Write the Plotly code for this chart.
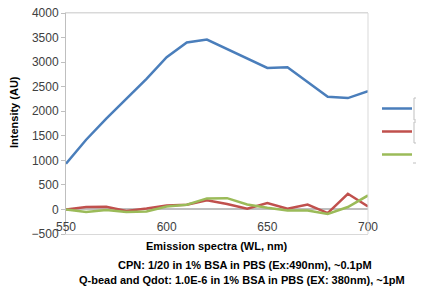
import plotly.graph_objects as go

wavelength = [550, 560, 570, 580, 590, 600, 610, 620, 630, 640, 650, 660, 670, 680, 690, 700]
cpn = [930, 1420, 1850, 2250, 2660, 3100, 3400, 3460, 3270, 3075, 2880, 2895, 2600, 2295, 2268, 2410]
qbead = [0, 50, 55, -30, 20, 80, 95, 185, 110, 15, 130, 15, 100, -75, 320, 60]
qdot = [0, -50, -10, -50, -40, 60, 95, 225, 230, 100, 35, -20, -20, -90, 50, 285]
names = ["CPN", "Q-bead", "Qdot"]
colors = ["#4A7EBB", "#C0504D", "#9BBB59"]

OFF = 8  # default page body margin
W, H = 424 - OFF, 288 - OFF
# plot area in window pixels: x 66..368, y 13..234
L, T = 66 - OFF, 13 - OFF
R, B = W - (368 - OFF), H - (234 - OFF)
pw, ph = W - L - R, H - T - B

def px(x):
    return (x - OFF - L) / pw

def py(y):
    return (H - B - (y - OFF)) / ph

fig = go.Figure()
for i, (nm, ys) in enumerate(zip(names, [cpn, qbead, qdot])):
    fig.add_trace(go.Scatter(x=wavelength, y=ys, mode="lines", name=nm,
                             legendgroup=nm,
                             line=dict(color=colors[i], width=2.5)))

tickfont = dict(family="Liberation Sans, Arial, sans-serif", size=12, color="#404040")
fig.update_layout(
    width=W, height=H,
    margin=dict(l=L, r=R, t=T, b=B, autoexpand=False),
    plot_bgcolor="white", paper_bgcolor="white",
    showlegend=True,
    legend=dict(x=px(377), y=py(94), xanchor="left", yanchor="top",
                traceorder="grouped", tracegroupgap=4,
                font=dict(family="Liberation Sans, Arial, sans-serif", size=12, color="#404040"),
                bgcolor="rgba(0,0,0,0)"),
    xaxis=dict(range=[550, 700], tickvals=[550, 600, 650, 700],
               ticklabelstandoff=-18, ticklabeloverflow="allow",
               showgrid=False, zeroline=False, showline=True, linecolor="#D9D9D9",
               mirror=True, ticks="", tickfont=tickfont),
    yaxis=dict(range=[-500, 4000], dtick=500, showgrid=False, zeroline=True,
               zerolinecolor="#BFBFBF", zerolinewidth=1.5, ticklabeloverflow="allow",
               showline=True, linecolor="#BFBFBF", mirror=False,
               ticks="outside", ticklen=4, tickcolor="#BFBFBF", tickfont=tickfont),
)
fig.add_shape(type="line", xref="paper", yref="paper", x0=0, x1=1, y0=1, y1=1,
              line=dict(color="#D9D9D9", width=1))
fig.add_shape(type="line", xref="paper", yref="paper", x0=1, x1=1, y0=0, y1=1,
              line=dict(color="#D9D9D9", width=1))
# cut-off label boxes on the right
fig.add_shape(type="rect", xref="paper", yref="paper", x0=px(414), x1=px(440), y0=py(120), y1=py(98),
              line=dict(color="#BFBFBF", width=1))
fig.add_shape(type="rect", xref="paper", yref="paper", x0=px(414), x1=px(440), y0=py(143), y1=py(122),
              line=dict(color="#BFBFBF", width=1))
fig.add_shape(type="line", xref="paper", yref="paper", x0=px(413), x1=px(440), y0=py(163), y1=py(163),
              line=dict(color="#BFBFBF", width=1))

bold = dict(family="Liberation Sans, Arial, sans-serif", size=11, color="#000000")
fig.add_annotation(text="<b>Intensity (AU)</b>", textangle=-90, xref="paper", yref="paper",
                   x=px(14), y=py(112), xanchor="center", yanchor="middle", showarrow=False, font=bold)
fig.add_annotation(text="<b>Emission spectra (WL, nm)</b>", xref="paper", yref="paper",
                   x=px(217), y=py(246), xanchor="center", yanchor="middle", showarrow=False, font=bold)
fig.add_annotation(text="<b>CPN: 1/20 in 1% BSA in PBS (Ex:490nm), ~0.1pM</b>", xref="paper", yref="paper",
                   x=px(245), y=py(265), xanchor="center", yanchor="middle", showarrow=False, font=bold)
fig.add_annotation(text="<b>Q-bead and Qdot: 1.0E-6 in 1% BSA in PBS (EX: 380nm), ~1pM</b>", xref="paper", yref="paper",
                   x=px(242), y=py(280), xanchor="center", yanchor="middle", showarrow=False, font=bold)

fig.write_html("out.html")
